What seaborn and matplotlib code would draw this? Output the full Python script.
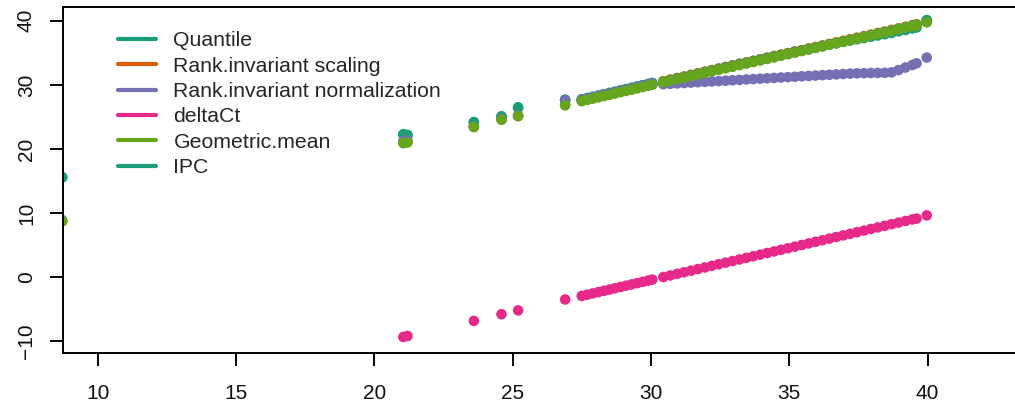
import matplotlib
matplotlib.use("Agg")
import matplotlib.pyplot as plt
from matplotlib.lines import Line2D
import pandas as pd
import seaborn as sns

# raw Ct values (x) and normalized values per method (y)
ct = [8.72, 21.05, 21.2, 23.6, 24.6, 25.2, 26.9,
      27.5, 27.7, 27.9, 28.1, 28.3, 28.5, 28.7, 28.9, 29.1, 29.3, 29.5, 29.7, 29.9, 30.05,
      30.45, 30.7, 30.95, 31.2, 31.45, 31.7, 31.95, 32.2, 32.45, 32.7,
      32.95, 33.2, 33.45, 33.7, 33.95, 34.2, 34.45, 34.7, 34.95, 35.2,
      35.45, 35.7, 35.95, 36.2, 36.45, 36.7, 36.95, 37.2, 37.45, 37.7,
      37.95, 38.2, 38.45, 38.7, 38.95, 39.2, 39.45, 39.6, 39.97]

quantile = [15.6, 22.3, 22.2, 24.2, 25.1, 26.5, 27.7,
            27.75, 27.95, 28.15, 28.35, 28.55, 28.75, 28.95, 29.15, 29.35, 29.55, 29.75, 29.95, 30.15, 30.3,
            30.55, 30.8, 31.05, 31.3, 31.55, 31.8, 32.05, 32.3, 32.55, 32.8,
            33.05, 33.3, 33.5, 33.75, 34.0, 34.25, 34.5, 34.7, 34.95, 35.2,
            35.4, 35.65, 35.85, 36.1, 36.3, 36.5, 36.7, 36.9, 37.1, 37.3,
            37.5, 37.7, 37.9, 38.1, 38.35, 38.55, 38.8, 38.95, 40.1]

rank_scaling = [8.7, 21.0, 21.1, 23.5, 24.6, 25.15, 26.9,
                27.55, 27.75, 27.95, 28.15, 28.35, 28.55, 28.75, 28.95, 29.15, 29.35, 29.55, 29.75, 29.95, 30.1,
                30.55, 30.79, 31.04, 31.28, 31.52, 31.77, 32.01, 32.25, 32.5, 32.74,
                32.98, 33.23, 33.47, 33.71, 33.96, 34.2, 34.44, 34.69, 34.93, 35.17,
                35.42, 35.66, 35.9, 36.14, 36.39, 36.63, 36.87, 37.12, 37.36, 37.6,
                37.85, 38.09, 38.33, 38.58, 38.82, 39.06, 39.31, 39.45, 39.9]

rank_norm = [8.9, 21.2, 21.3, 23.5, 24.7, 25.2, 27.6,
             27.65, 27.85, 28.05, 28.25, 28.45, 28.65, 28.85, 29.05, 29.25, 29.45, 29.65, 29.85, 30.05, 30.15,
             30.1, 30.16, 30.22, 30.28, 30.35, 30.41, 30.47, 30.53, 30.59, 30.65,
             30.71, 30.77, 30.84, 30.9, 30.96, 31.02, 31.08, 31.14, 31.2, 31.26,
             31.33, 31.39, 31.45, 31.51, 31.57, 31.63, 31.69, 31.75, 31.8, 31.82,
             31.84, 31.86, 31.88, 31.95, 32.3, 32.7, 33.1, 33.35, 34.25]

delta_ct = [-21.7, -9.35, -9.2, -6.85, -5.8, -5.2, -3.5,
            -2.95, -2.75, -2.55, -2.35, -2.15, -1.95, -1.75, -1.55, -1.35, -1.15, -0.95, -0.75, -0.55, -0.4,
            0.0, 0.25, 0.5, 0.75, 1.0, 1.25, 1.5, 1.75, 2.0, 2.25,
            2.5, 2.75, 3.0, 3.25, 3.5, 3.75, 4.0, 4.25, 4.5, 4.75,
            5.0, 5.25, 5.5, 5.75, 6.0, 6.25, 6.5, 6.75, 7.0, 7.25,
            7.5, 7.75, 8.0, 8.25, 8.5, 8.75, 9.0, 9.12, 9.62]

geo_mean = [8.7, 20.9, 21.0, 23.4, 24.55, 25.1, 26.8,
            27.45, 27.65, 27.85, 28.05, 28.25, 28.45, 28.65, 28.85, 29.05, 29.25, 29.45, 29.65, 29.85, 30.0,
            30.4, 30.64, 30.89, 31.13, 31.37, 31.62, 31.86, 32.1, 32.35, 32.59,
            32.83, 33.08, 33.32, 33.56, 33.81, 34.05, 34.29, 34.54, 34.78, 35.02,
            35.27, 35.51, 35.75, 35.99, 36.24, 36.48, 36.72, 36.97, 37.21, 37.45,
            37.7, 37.94, 38.18, 38.43, 38.67, 38.91, 39.16, 39.3, 39.75]

ipc = [15.55, 22.25, 22.1, 24.1, 25.0, 26.4, 27.6,
       27.6, 27.8, 28.0, 28.2, 28.4, 28.6, 28.8, 29.0, 29.2, 29.4, 29.6, 29.8, 30.0, 30.15,
       30.45, 30.69, 30.94, 31.18, 31.42, 31.67, 31.91, 32.15, 32.4, 32.64,
       32.88, 33.13, 33.37, 33.61, 33.86, 34.1, 34.34, 34.59, 34.83, 35.07,
       35.32, 35.56, 35.8, 36.04, 36.29, 36.53, 36.77, 37.02, 37.26, 37.5,
       37.75, 37.99, 38.23, 38.48, 38.72, 38.96, 39.21, 39.35, 40.05]

methods = ["Quantile", "Rank.invariant scaling", "Rank.invariant normalization",
           "deltaCt", "Geometric.mean", "IPC"]
colors = ["#1B9E77", "#D95F02", "#7570B3", "#E7298A", "#66A61E", "#1B9E77"]
values = {"Quantile": quantile, "Rank.invariant scaling": rank_scaling,
          "Rank.invariant normalization": rank_norm, "deltaCt": delta_ct,
          "Geometric.mean": geo_mean, "IPC": ipc}

# order in which the points are painted (green ends up on top)
draw_order = ["Quantile", "Rank.invariant scaling", "IPC",
              "Rank.invariant normalization", "deltaCt", "Geometric.mean"]

df = pd.concat([pd.DataFrame({"ct": ct, "value": values[m], "method": m}) for m in draw_order],
               ignore_index=True)

sns.set_theme(style="white")
plt.rcParams["font.family"] = ["Liberation Sans", "DejaVu Sans"]

fig = plt.figure(figsize=(10.15, 4.07), dpi=100)
ax = fig.add_axes([63 / 1015, 53.7 / 407, (1015 - 63) / 1015, 346 / 407])

palette = dict(zip(methods, colors))
sns.scatterplot(data=df, x="ct", y="value", hue="method", palette=palette,
                s=58, linewidth=0, legend=False, ax=ax)

ax.set_xlim(8.75, 43.16)
ax.set_ylim(-11.9, 42.1)
ax.set_xticks([10, 15, 20, 25, 30, 35, 40])
ax.set_yticks([-10, 0, 10, 20, 30, 40])
ax.set_xlabel("")
ax.set_ylabel("")
ax.tick_params(axis="both", direction="out", length=9.5, width=1.4, labelsize=15,
               color="black", labelcolor="#111111", bottom=True, left=True)
ax.tick_params(axis="x", pad=12.5)
ax.tick_params(axis="y", pad=10)
for lab in ax.get_yticklabels():
    lab.set_rotation(90)
    lab.set_va("center")

for side in ["left", "bottom", "top"]:
    ax.spines[side].set_color("black")
    ax.spines[side].set_linewidth(1.4)
ax.spines["right"].set_visible(False)

handles = [Line2D([0], [0], color=c, lw=3) for c in colors]
ax.legend(handles, methods, loc="upper left", bbox_to_anchor=(0.049, 0.955),
          frameon=False, fontsize=15.3, handlelength=1.8, handletextpad=0.8,
          labelspacing=0.3, borderaxespad=0)

fig.savefig("out.png", dpi=100)
